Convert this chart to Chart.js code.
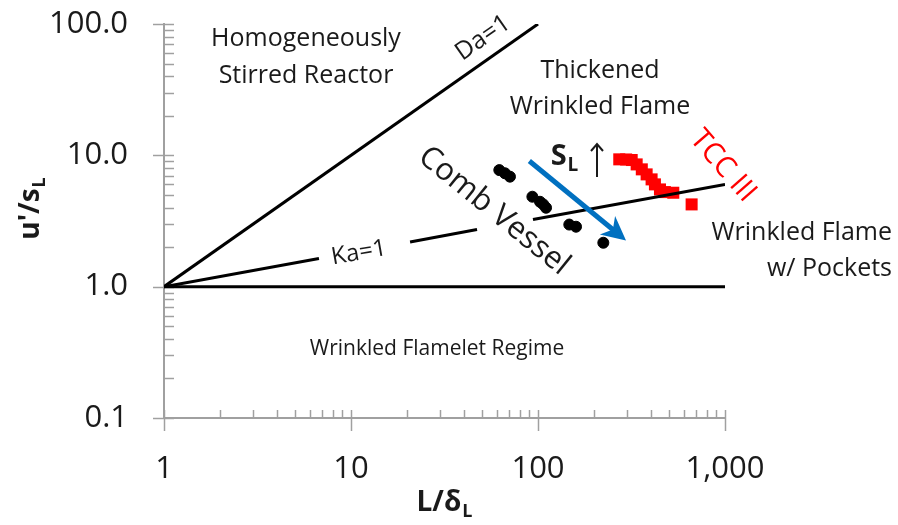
<!DOCTYPE html>
<html><head><meta charset="utf-8">
<script src="https://cdn.jsdelivr.net/npm/chart.js@4"></script>
<style>html,body{margin:0;padding:0;background:#fff}#wrap{width:898px;height:525px}</style>
</head><body><div id="wrap"><canvas id="c" width="898" height="525"></canvas></div>
<script>
// ---- data ----
const xMajor = [1, 10, 100, 1000];
const xLabels = ['1', '10', '100', '1,000'];
const yMajor = [0.1, 1, 10, 100];
const yLabels = ['0.1', '1.0', '10.0', '100.0'];

const daX = [1, 100], daY = [1, 100];                 // Da = 1
const flameletX = [1, 1000], flameletY = [1, 1];     // u'/sL = 1
const ka1X = [1, 6.74], ka1Y = [1, 1.64];            // Ka = 1 (pieces)
const ka2X = [20.7, 47.2], ka2Y = [2.19, 2.72];
const ka3X = [94, 1000], ka3Y = [3.25, 6];

const combX = [62.1, 66.6, 70.8, 93.3, 102.5, 106.7, 110.4, 147, 159.7, 223.5];
const combY = [7.72, 7.3, 6.88, 4.84, 4.43, 4.23, 3.99, 2.97, 2.86, 2.16];
const tccX = [272, 296, 317, 337, 359, 381, 405, 422, 449, 477, 529, 663];
const tccY = [9.32, 9.3, 9.21, 8.53, 7.82, 7.16, 6.56, 6.01, 5.50, 5.25, 5.19, 4.23];
const arrowX = [89.9, 295.6], arrowY = [9.05, 2.25];

const FONT = '"Open Sans", "DejaVu Sans", sans-serif';
const AXIS = '#a0a0a0';

const pts = (xs, ys) => xs.map((v, i) => ({x: v, y: ys[i]}));
const isMaj = (v, arr) => arr.some(m => Math.abs(v / m - 1) < 1e-6);
function buildLogTicks(arr) {
  const out = [];
  for (let i = 0; i < arr.length - 1; i++) for (let k = 1; k < 10; k++) out.push({value: k * arr[i]});
  out.push({value: arr[arr.length - 1]});
  return out;
}
const lineDs = (xs, ys) => ({data: pts(xs, ys), showLine: true, borderColor: '#000', borderWidth: 3,
  pointRadius: 0, fill: false, tension: 0, borderCapStyle: 'butt'});

function txt(ctx, s, x, y, o) {
  ctx.save();
  ctx.translate(x, y);
  if (o.rot) ctx.rotate(o.rot * Math.PI / 180);
  ctx.font = (o.bold ? 'bold ' : '') + o.size + 'px ' + FONT;
  ctx.fillStyle = o.color || '#1a1a1a';
  ctx.textAlign = o.align || 'center';
  ctx.textBaseline = 'middle';
  ctx.fillText(s, 0, 0);
  ctx.restore();
}
function subTxt(ctx, main, sub, x, y, o) {
  ctx.save();
  ctx.translate(x, y);
  if (o.rot) ctx.rotate(o.rot * Math.PI / 180);
  const f1 = (o.bold ? 'bold ' : '') + o.size + 'px ' + FONT;
  const f2 = (o.bold ? 'bold ' : '') + o.sub + 'px ' + FONT;
  ctx.font = f1; const w1 = ctx.measureText(main).width;
  ctx.font = f2; const w2 = ctx.measureText(sub).width;
  const x0 = -(w1 + w2) / 2;
  ctx.fillStyle = o.color || '#1a1a1a';
  ctx.textBaseline = 'middle'; ctx.textAlign = 'left';
  ctx.font = f1; ctx.fillText(main, x0, 0);
  ctx.font = f2; ctx.fillText(sub, x0 + w1 + 1, o.size * 0.3);
  ctx.restore();
}

const overlay = {
  id: 'overlay',
  beforeDatasetsDraw(chart) {
    const ctx = chart.ctx, a = chart.chartArea, sx = chart.scales.x, sy = chart.scales.y;
    ctx.save();
    ctx.strokeStyle = AXIS; ctx.lineWidth = 1.5;
    sx.ticks.forEach(t => {
      const px = Math.round(sx.getPixelForValue(t.value)) + 0.5;
      const m = isMaj(t.value, xMajor);
      ctx.beginPath(); ctx.moveTo(px, a.bottom - 8); ctx.lineTo(px, a.bottom + (m ? 13 : 0)); ctx.stroke();
    });
    sy.ticks.forEach(t => {
      const py = Math.round(sy.getPixelForValue(t.value)) + 0.5;
      const m = isMaj(t.value, yMajor);
      ctx.beginPath(); ctx.moveTo(a.left - (m ? 11 : 0), py); ctx.lineTo(a.left + 10, py); ctx.stroke();
    });
    ctx.restore();
  },
  afterDatasetsDraw(chart) {
    const ctx = chart.ctx, sx = chart.scales.x, sy = chart.scales.y;
    // blue arrow
    const x0 = sx.getPixelForValue(arrowX[0]), y0 = sy.getPixelForValue(arrowY[0]);
    const x1 = sx.getPixelForValue(arrowX[1]), y1 = sy.getPixelForValue(arrowY[1]);
    const ang = Math.atan2(y1 - y0, x1 - x0), L = Math.hypot(x1 - x0, y1 - y0);
    ctx.save();
    ctx.translate(x0, y0); ctx.rotate(ang);
    ctx.strokeStyle = '#0070C0'; ctx.fillStyle = '#0070C0'; ctx.lineWidth = 5;
    ctx.beginPath(); ctx.moveTo(0, 0); ctx.lineTo(L - 14, 0); ctx.stroke();
    ctx.beginPath(); ctx.moveTo(L, 0); ctx.lineTo(L - 24, -12); ctx.lineTo(L - 17, 0); ctx.lineTo(L - 24, 12); ctx.closePath(); ctx.fill();
    ctx.restore();

    // region labels
    txt(ctx, 'Homogeneously', 306, 39, {size: 25});
    txt(ctx, 'Stirred Reactor', 306, 76, {size: 25});
    txt(ctx, 'Thickened', 600, 71, {size: 25});
    txt(ctx, 'Wrinkled Flame', 600, 107, {size: 25});
    txt(ctx, 'Wrinkled Flame', 892, 233, {size: 25, align: 'right'});
    txt(ctx, 'w/ Pockets', 892, 269, {size: 25, align: 'right'});
    txt(ctx, 'Wrinkled Flamelet Regime', 437, 349, {size: 21});
    txt(ctx, 'Da=1', 483, 38, {size: 25, rot: -35});
    txt(ctx, 'Ka=1', 359, 253, {size: 24, rot: -10});
    txt(ctx, 'Comb Vessel', 494, 211, {size: 31, rot: 39});
    txt(ctx, 'TCC III', 723, 166, {size: 29, rot: 49, color: '#ff0000'});

    // S_L with up arrow
    subTxt(ctx, 'S', 'L', 564, 157, {size: 29, sub: 19, bold: true});
    ctx.save();
    ctx.strokeStyle = '#1a1a1a'; ctx.lineWidth = 2;
    ctx.beginPath(); ctx.moveTo(597, 177); ctx.lineTo(597, 144); ctx.stroke();
    ctx.beginPath(); ctx.moveTo(591, 151); ctx.lineTo(597, 144); ctx.lineTo(603, 151); ctx.stroke();
    ctx.restore();

    // axis titles
    subTxt(ctx, "u'/s", 'L', 31, 209, {size: 28, sub: 18, bold: true, rot: -90});
    subTxt(ctx, 'L/\u03B4', 'L', 444, 503, {size: 28, sub: 18, bold: true});
  }
};

new Chart(document.getElementById('c'), {
  type: 'scatter',
  data: {
    datasets: [
      lineDs(daX, daY),
      lineDs(flameletX, flameletY),
      lineDs(ka1X, ka1Y),
      lineDs(ka2X, ka2Y),
      lineDs(ka3X, ka3Y),
      {data: pts(combX, combY), pointStyle: 'circle', pointRadius: 5.5, backgroundColor: '#000', borderColor: '#000', borderWidth: 1},
      {data: pts(tccX, tccY), pointStyle: 'rect', pointRadius: 8.5, backgroundColor: '#ff0000', borderColor: '#ff0000', borderWidth: 0}
    ]
  },
  options: {
    responsive: false, animation: false, devicePixelRatio: 1,
    layout: {padding: {left: 0, top: 24, right: 173, bottom: 0}},
    plugins: {legend: {display: false}, tooltip: {enabled: false}},
    scales: {
      x: {
        type: 'logarithmic', min: 1, max: 1000, position: 'bottom',
        afterBuildTicks: s => { s.ticks = buildLogTicks(xMajor); },
        afterFit: s => { s.height = 107; s.paddingLeft = 0; s.paddingRight = 0; s.paddingTop = 0; s.paddingBottom = 0; },
        grid: {display: false},
        border: {display: true, color: AXIS, width: 2},
        ticks: {autoSkip: false, maxRotation: 0, padding: 25, color: '#1a1a1a', font: {family: FONT, size: 31},
          callback: v => { const i = xMajor.findIndex(m => Math.abs(v / m - 1) < 1e-6); return i >= 0 ? xLabels[i] : ''; }}
      },
      y: {
        type: 'logarithmic', min: 0.1, max: 100, position: 'left',
        afterBuildTicks: s => { s.ticks = buildLogTicks(yMajor); },
        afterFit: s => { s.width = 164; s.paddingLeft = 0; s.paddingRight = 0; s.paddingTop = 0; s.paddingBottom = 0; },
        grid: {display: false},
        border: {display: true, color: AXIS, width: 2},
        ticks: {autoSkip: false, padding: 28, color: '#1a1a1a', font: {family: FONT, size: 31},
          callback: v => { const i = yMajor.findIndex(m => Math.abs(v / m - 1) < 1e-6); return i >= 0 ? yLabels[i] : ''; }}
      }
    }
  },
  plugins: [overlay]
});
</script></body></html>
